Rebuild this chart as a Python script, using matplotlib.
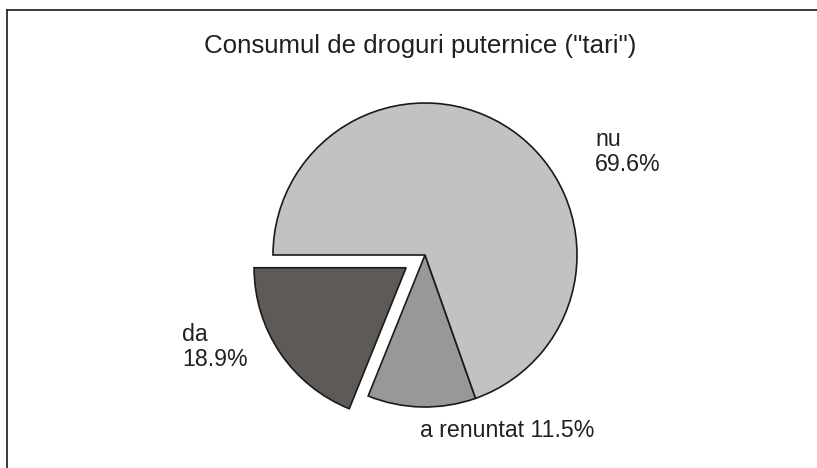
import matplotlib
matplotlib.use("Agg")
import matplotlib.pyplot as plt
from matplotlib.lines import Line2D

categories = ["da", "a renuntat", "nu"]
values = [18.9, 11.5, 69.6]
colors = ["#5e5a56", "#989898", "#c2c2c2"]
explode = [0.15, 0.0, 0.0]
title = 'Consumul de droguri puternice ("tari")'

plt.rcParams['font.family'] = ['Liberation Sans', 'DejaVu Sans']

W, H, DPI = 817, 468, 100
fig = plt.figure(figsize=(W / DPI, H / DPI), dpi=DPI)
ax = fig.add_axes([0, 0, 1, 1])

cx, cy, R = 425.0, 255.0, 152.0  # pixel centre / radius

ax.pie(values, colors=colors, explode=explode, startangle=180,
       counterclock=True, radius=1.0, center=(0, 0), frame=True,
       wedgeprops=dict(edgecolor="#1a1a1a", linewidth=1.2))
ax.set_xlim(-cx / R, (W - cx) / R)
ax.set_ylim((cy - H) / R, cy / R)
ax.set_aspect('auto')
ax.axis('off')

def px(x, y):
    return ((x - cx) / R, (cy - y) / R)

tc = "#231f20"
fs = 16.7
lab = {c: f"{c}\n{v}%" for c, v in zip(categories, values)}
x, y = px(595, 171)
ax.text(x, y, lab["nu"], ha="left", va="baseline", fontsize=fs, color=tc, linespacing=1.1)
x, y = px(182, 366)
ax.text(x, y, lab["da"], ha="left", va="baseline", fontsize=fs, color=tc, linespacing=1.1)
x, y = px(420, 437)
ax.text(x, y, f"{categories[1]} {values[1]}%", ha="left", va="baseline", fontsize=fs, color=tc)

fig.text(420 / W, 1 - 53 / H, title, ha="center", va="baseline", fontsize=18.6, color=tc)

# outer frame (top and left edges visible)
fig.add_artist(Line2D([6.5 / W, 1.0], [1 - 10 / H, 1 - 10 / H], transform=fig.transFigure,
                      color="#2a2a2a", lw=1.3))
fig.add_artist(Line2D([6.5 / W, 6.5 / W], [1 - 10 / H, 0.0], transform=fig.transFigure,
                      color="#2a2a2a", lw=1.3))

fig.savefig("out.png", dpi=DPI, facecolor="white")
